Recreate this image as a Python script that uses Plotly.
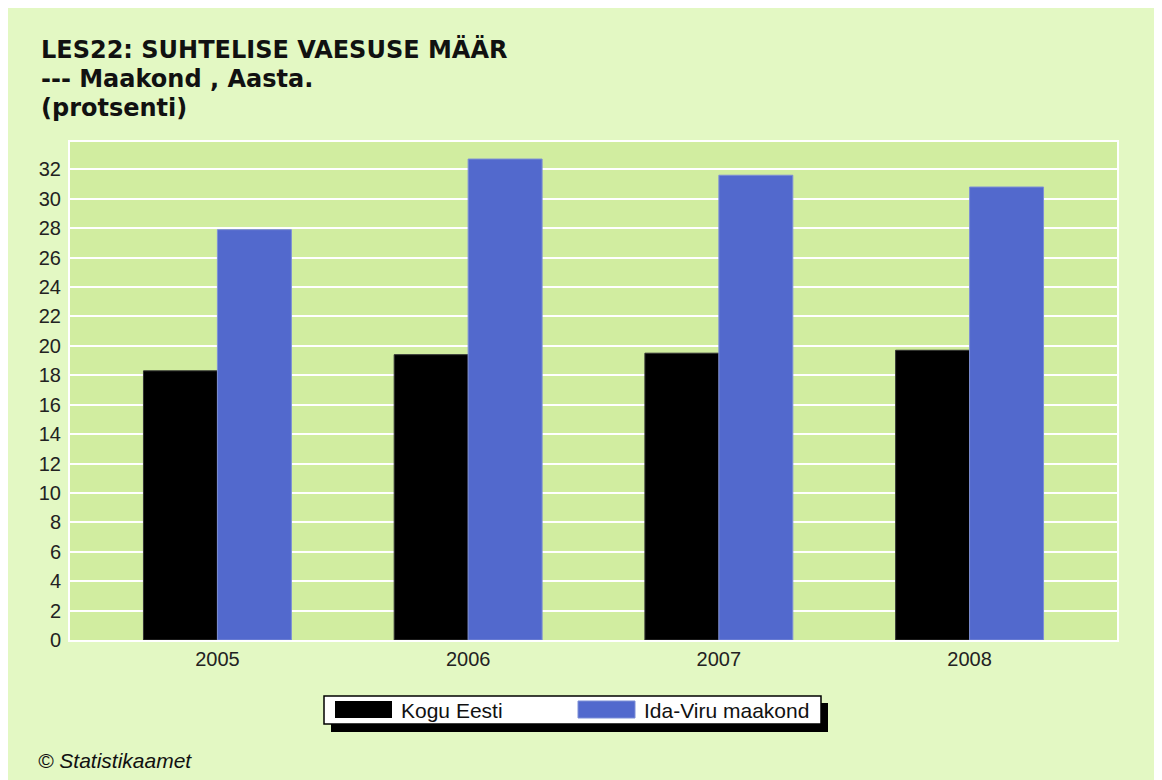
import plotly.graph_objects as go

# data
years = ["2005", "2006", "2007", "2008"]
kogu_eesti = [18.3, 19.4, 19.5, 19.7]
ida_viru = [27.9, 32.7, 31.6, 30.8]
series_names = ["Kogu Eesti", "Ida-Viru maakond"]
title_lines = ["LES22: SUHTELISE VAESUSE MÄÄR", "--- Maakond , Aasta.", "(protsenti)"]
y_ticks = list(range(0, 33, 2))

W, H = 1162, 780
OFF = 8  # page body margin of the html page
# plot area wanted on the page: x 70..1117, y 142..640
L, T = 70 - OFF, 142 - OFF
R, B = W - (1117 - OFF), H - (640 - OFF)
PW, PH = W - L - R, H - T - B

PAPER = "#E3F8C3"
PLOTBG = "#D1EDA0"
BLUE = "#5269CD"
TXT = "#111111"


def px(x):
    # page pixel -> paper coordinate
    return (x - OFF - L) / PW


def py(y):
    return (H - B - (y - OFF)) / PH


fig = go.Figure()
fig.add_trace(go.Bar(x=years, y=kogu_eesti, name=series_names[0],
                     marker=dict(color="#000000", line=dict(color="#333333", width=1))))
fig.add_trace(go.Bar(x=years, y=ida_viru, name=series_names[1],
                     marker=dict(color=BLUE, line=dict(color="#7d8fd6", width=1))))

shapes = [
    # legend box with shadow
    dict(type="rect", xref="paper", yref="paper", x0=px(331), x1=px(828), y0=py(703), y1=py(732),
         fillcolor="black", line=dict(width=0)),
    dict(type="rect", xref="paper", yref="paper", x0=px(324), x1=px(821), y0=py(696), y1=py(724),
         fillcolor="white", line=dict(color="black", width=1.5)),
    dict(type="rect", xref="paper", yref="paper", x0=px(335), x1=px(392), y0=py(701), y1=py(718),
         fillcolor="black", line=dict(width=0)),
    dict(type="rect", xref="paper", yref="paper", x0=px(578), x1=px(635), y0=py(701), y1=py(718),
         fillcolor=BLUE, line=dict(color="#7d8fd6", width=1)),
]

annotations = []
for i, line in enumerate(title_lines):
    annotations.append(dict(text=line, xref="paper", yref="paper", x=px(39), y=py(50 + 29 * i),
                            xanchor="left", yanchor="middle", showarrow=False,
                            font=dict(family="DejaVu Sans", size=24, color=TXT, weight="bold")))
annotations.append(dict(text=series_names[0], xref="paper", yref="paper", x=px(399), y=py(710),
                        xanchor="left", yanchor="middle", showarrow=False,
                        font=dict(family="Liberation Sans, Arial", size=21, color=TXT)))
annotations.append(dict(text=series_names[1], xref="paper", yref="paper", x=px(642), y=py(710),
                        xanchor="left", yanchor="middle", showarrow=False,
                        font=dict(family="Liberation Sans, Arial", size=21, color=TXT)))
annotations.append(dict(text="© Statistikaamet", xref="paper", yref="paper", x=px(36), y=py(760),
                        xanchor="left", yanchor="middle", showarrow=False,
                        font=dict(family="Liberation Sans, Arial", size=21, color=TXT, style="italic")))

fig.update_layout(
    width=W, height=H,
    margin=dict(l=L, r=R, t=T, b=B),
    paper_bgcolor=PAPER,
    plot_bgcolor=PLOTBG,
    barmode="group",
    bargap=0.41,
    bargroupgap=0,
    showlegend=False,
    font=dict(family="Liberation Sans, Arial", size=20, color=TXT),
    shapes=shapes,
    annotations=annotations,
    xaxis=dict(type="category", range=[-0.588, 3.588], showgrid=False,
               showline=True, linecolor="white", linewidth=2, mirror=True,
               ticks="", tickfont=dict(size=20, color="#222222")),
    yaxis=dict(range=[0, 33.86], tickvals=y_ticks, showgrid=True, gridcolor="white", gridwidth=2,
               zeroline=False, showline=True, linecolor="white", linewidth=2, mirror=True,
               ticks="", ticklabelstandoff=3, tickfont=dict(size=20, color="#222222")),
)

fig.write_html("out.html")
